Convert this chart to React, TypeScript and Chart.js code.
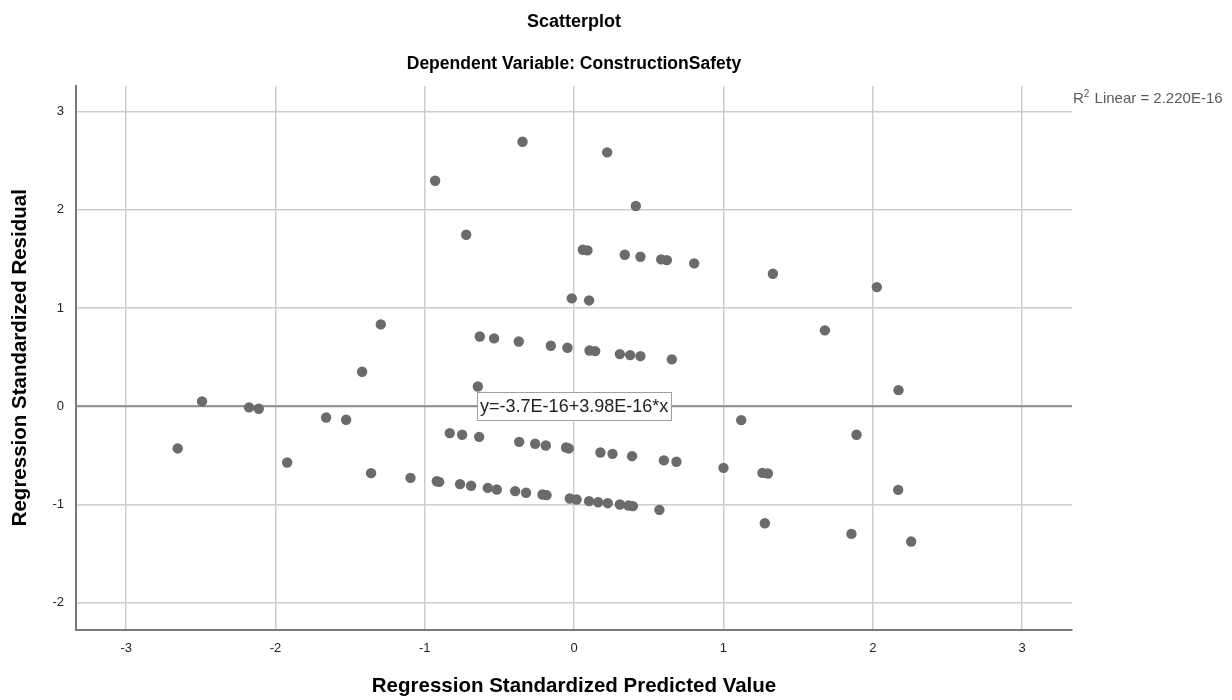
import React, { useEffect, useRef } from "react";
import { Chart, registerables } from "chart.js";

Chart.register(...registerables);

// Regression standardized predicted values (x) and residuals (y)
const predicted = [
  -2.655, -2.492, -2.177, -2.112, -1.922, -1.661, -1.527, -1.42, -1.36, -1.295,
  -0.346, 0.221, -0.931, 0.413, -0.723, 0.058, 0.089, 0.339, 0.444, 0.583,
  0.621, 0.804, -0.016, 0.1, -0.632, -0.536, -0.371, -0.156, -0.045, 0.103,
  0.141, 0.306, 0.375, 0.444, 0.654, -0.645, -0.833, -0.75, -0.636, -0.368,
  -0.261, -0.19, -0.054, -0.036, 0.176, 0.257, 0.388, 0.601, 0.685, 1.0,
  -1.096, -0.92, -0.904, -0.764, -0.69, -0.578, -0.518, -0.395, -0.322, -0.212,
  -0.185, -0.029, 0.016, 0.1, 0.161, 0.225, 0.306, 0.364, 0.393, 0.571,
  2.172, 1.119, 1.891, 1.261, 1.297, 2.17, 1.277, 1.857, 2.257, 1.331,
  2.027, 1.679,
];
const residual = [
  -0.431, 0.048, -0.013, -0.027, -0.574, -0.116, -0.139, 0.35, -0.683, 0.833,
  2.694, 2.586, 2.297, 2.039, 1.746, 1.593, 1.587, 1.542, 1.522, 1.495,
  1.488, 1.455, 1.098, 1.077, 0.71, 0.69, 0.659, 0.615, 0.595, 0.567,
  0.561, 0.53, 0.52, 0.51, 0.476, 0.2, -0.275, -0.292, -0.313, -0.364,
  -0.384, -0.401, -0.421, -0.431, -0.472, -0.486, -0.51, -0.553, -0.567, -0.629,
  -0.731, -0.765, -0.772, -0.795, -0.812, -0.833, -0.849, -0.866, -0.883, -0.9,
  -0.907, -0.941, -0.951, -0.968, -0.979, -0.989, -1.002, -1.012, -1.019, -1.057,
  0.163, -0.143, -0.292, -0.68, -0.686, -0.853, -1.193, -1.302, -1.38, 1.349,
  1.213, 0.772,
];

// Fitted line
const fitIntercept = -3.7e-16;
const fitSlope = 3.98e-16;
const fitLabel = "y=-3.7E-16+3.98E-16*x";
const r2Value = "2.220E-16";

const xTicks = [-3, -2, -1, 0, 1, 2, 3];
const yTicks = [-2, -1, 0, 1, 2, 3];
const xRange = [-3.336, 3.334];
const yRange = [-2.276, 3.262];

const titleText = "Scatterplot";
const subtitleText = "Dependent Variable: ConstructionSafety";
const xTitle = "Regression Standardized Predicted Value";
const yTitle = "Regression Standardized Residual";

const FONT = "'Liberation Sans', Arial, sans-serif";

const textPlugin = {
  id: "spssText",
  afterDatasetsDraw(chart: any) {
    const { ctx, chartArea, scales } = chart;
    const cx = (chartArea.left + chartArea.right) / 2;
    const cy = (chartArea.top + chartArea.bottom) / 2;
    ctx.save();

    // Fit line label box, anchored on the line at x = 0
    const lx = scales.x.getPixelForValue(0);
    const ly = scales.y.getPixelForValue(fitIntercept);
    ctx.font = `18px ${FONT}`;
    const tw = ctx.measureText(fitLabel).width;
    const bw = tw + 6;
    const bh = 28;
    ctx.fillStyle = "#ffffff";
    ctx.fillRect(lx - bw / 2, ly - bh / 2, bw, bh);
    ctx.strokeStyle = "#a0a0a0";
    ctx.lineWidth = 1;
    ctx.strokeRect(Math.round(lx - bw / 2) + 0.5, Math.round(ly - bh / 2) + 0.5, Math.round(bw), bh);
    ctx.fillStyle = "#222222";
    ctx.textAlign = "center";
    ctx.textBaseline = "middle";
    ctx.fillText(fitLabel, lx, ly + 1);

    // Titles
    ctx.fillStyle = "#000000";
    ctx.font = `bold 18px ${FONT}`;
    ctx.fillText(titleText, cx, 22);
    ctx.font = `bold 17.5px ${FONT}`;
    ctx.fillText(subtitleText, cx, 64);

    ctx.font = `bold 20.5px ${FONT}`;
    ctx.fillText(xTitle, cx, 686);
    ctx.save();
    ctx.translate(20, cy);
    ctx.rotate(-Math.PI / 2);
    ctx.fillText(yTitle, 0, 0);
    ctx.restore();

    // R squared note
    ctx.fillStyle = "#5a5a5a";
    ctx.textAlign = "left";
    ctx.textBaseline = "alphabetic";
    let x = chartArea.right + 1;
    const base = 103;
    ctx.font = `15px ${FONT}`;
    ctx.fillText("R", x, base);
    x += ctx.measureText("R").width;
    ctx.font = `10px ${FONT}`;
    ctx.fillText("2", x, base - 6);
    x += ctx.measureText("2").width + 1;
    ctx.font = `15px ${FONT}`;
    ctx.fillText(` Linear = ${r2Value}`, x, base);

    ctx.restore();
  },
};

export default function App() {
  const canvasRef = useRef<HTMLCanvasElement | null>(null);

  useEffect(() => {
    const canvas = canvasRef.current;
    if (!canvas) return;
    const points = predicted.map((p, i) => ({ x: p, y: residual[i] }));
    const fitLine = xRange.map((v) => ({ x: v, y: fitIntercept + fitSlope * v }));

    const chart = new Chart(canvas, {
      type: "scatter",
      data: {
        datasets: [
          {
            label: "Residuals",
            data: points,
            pointRadius: 5.2,
            pointHoverRadius: 5.2,
            pointBackgroundColor: "#6b6b6b",
            pointBorderWidth: 0,
            order: 0,
          },
          {
            type: "line",
            label: "Fit line",
            data: fitLine,
            borderColor: "#8e8e8e",
            borderWidth: 2,
            pointRadius: 0,
            order: 1,
          } as any,
        ],
      },
      options: {
        responsive: false,
        animation: false,
        layout: { padding: { top: 86, right: 160, left: 0, bottom: 0 } },
        plugins: {
          legend: { display: false },
          tooltip: { enabled: false },
          title: { display: false },
        },
        scales: {
          x: {
            type: "linear",
            min: xRange[0],
            max: xRange[1],
            afterBuildTicks: (s: any) => {
              s.ticks = xTicks.map((v) => ({ value: v }));
            },
            afterFit: (s: any) => {
              s.height = 70.5;
            },
            grid: { color: "#cdcdcd", lineWidth: 1.5, drawTicks: false },
            border: { color: "#7a7a7a", width: 2 },
            ticks: {
              padding: 11,
              color: "#222222",
              font: { family: FONT, size: 13 },
              callback: (v: any) => String(v),
            },
          },
          y: {
            type: "linear",
            min: yRange[0],
            max: yRange[1],
            afterBuildTicks: (s: any) => {
              s.ticks = yTicks.map((v) => ({ value: v }));
            },
            afterFit: (s: any) => {
              s.width = 76;
            },
            grid: { color: "#cdcdcd", lineWidth: 1.5, drawTicks: false },
            border: { color: "#7a7a7a", width: 2 },
            ticks: {
              padding: 12,
              color: "#222222",
              font: { family: FONT, size: 13 },
              callback: (v: any) => String(v),
            },
          },
        },
      },
      plugins: [textPlugin],
    });
    return () => chart.destroy();
  }, []);

  return (
    <div style={{ position: "fixed", left: 0, top: 0, width: 1232, height: 700, background: "#ffffff" }}>
      <canvas ref={canvasRef} width={1232} height={700} />
    </div>
  );
}
